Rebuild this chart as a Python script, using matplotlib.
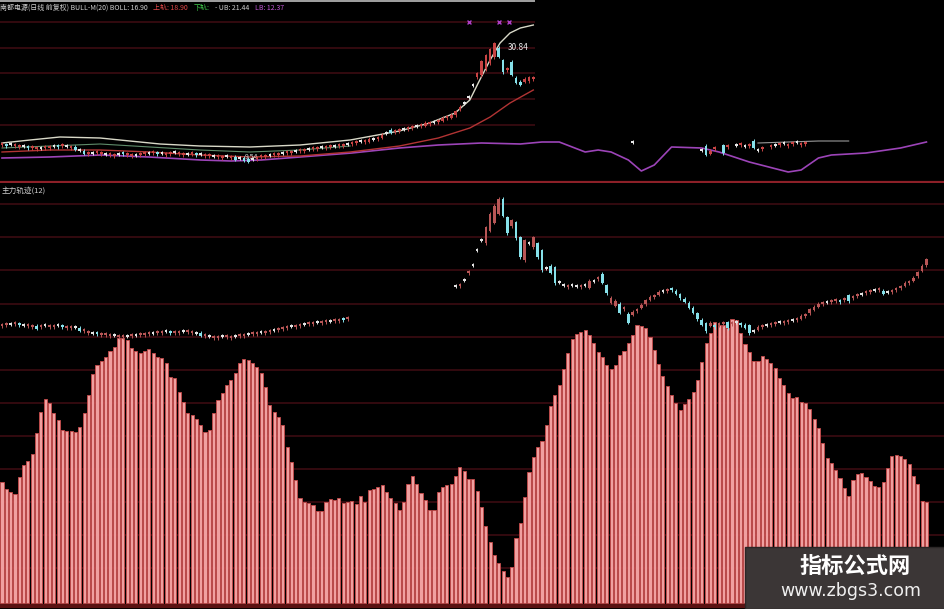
import numpy as np
import matplotlib.pyplot as plt
from matplotlib.patches import Rectangle

plt.rcParams['font.family'] = ['Noto Sans CJK SC', 'DejaVu Sans']

# lower panel: 主力轨迹 bars (height above the baseline, one per day)
bar_vals = [121, 114, 111, 109, 126, 138, 142, 149, 170, 191, 204, 200, 190, 183, 173, 172, 172, 171, 176, 190,
            208, 229, 238, 242, 246, 252, 256, 265, 265, 263, 255, 252, 250, 252, 254, 250, 246, 245, 240, 226,
            225, 211, 201, 190, 188, 184, 178, 171, 173, 190, 203, 210, 218, 223, 230, 240, 244, 243, 240, 236,
            230, 216, 198, 191, 186, 178, 156, 141, 123, 105, 101, 100, 98,
            92, 92, 101, 104, 103, 105, 100, 101, 102, 99, 107, 101, 113, 114, 116, 118, 111, 105, 100, 93,
            101, 119, 127, 119, 110, 103, 93, 93, 111, 116, 118, 119, 127, 136, 132, 124, 124, 112, 96, 77,
            61, 48, 40, 32, 26, 36, 65, 80, 106, 131, 146, 156, 162, 178,
            197, 208, 218, 234, 250, 264, 269, 271, 273, 268, 260, 251, 246, 238, 234, 238, 248, 252, 260, 268,
            278, 277, 275, 266, 253, 239, 227, 217, 208, 200, 193, 199, 204, 211, 223, 241, 260, 270, 281, 278,
            278, 275, 284, 283, 270, 259, 251,
            242, 242, 247, 244, 240, 235, 225, 218, 210, 205, 206, 201, 200, 194, 184, 175, 160, 145, 140, 133,
            125, 115, 107, 123, 129, 130, 126, 122, 117, 116, 121, 135, 147, 148, 147, 144, 139, 127, 119, 102, 101]

# lower panel candles: middle of body and signed body (days 0..80)
lo1_mid = [278, 279, 279, 280, 279, 278, 278, 277, 276, 277,
           278, 277, 277, 278, 277, 276, 276, 276, 274, 273,
           271, 270, 270, 269, 269, 268, 268, 267, 267, 267,
           268, 268, 269, 269, 270, 270, 271, 271, 272, 271,
           271, 271, 272, 272, 271, 270, 269, 268, 267, 266,
           266, 267, 267, 266, 267, 268, 268, 269, 270, 270,
           271, 271, 272, 273, 274, 275, 276, 277, 277, 278,
           279, 280, 280, 281, 281, 282, 282, 283, 283, 284, 285]
lo1_body = [2, 2, 0, 2, -2, 0, 2, 2, -3, 2, 0, 2, 2, 0, -2, 2, 2, 0, -3, 2,
            2, 0, -2, 2, 2, 2, 0, 2, 2, 0, 2, 0, 2, 2, 2, 0, 2, 2, 0, -2,
            2, 2, 0, 2, 2, 0, -3, 2, 0, 2, 2, 0, 2, 2, 0, 2, 2, 0, 2, 2,
            0, 2, 2, 0, 2, 2, 2, 0, 2, 2, 0, 2, 2, 0, 2, 2, 0, 2, 2, -2, 2]

# days 105..214
lo2_mid = [317, 318, 323, 331, 338, 353, 363, 368, 381, 389,
           397, 396, 378, 380, 373, 356, 353, 360, 361, 353,
           343, 335, 334, 328, 321, 318, 317, 318, 317, 317,
           318, 319, 322, 325, 325, 314, 303, 300, 295, 295,
           285, 290, 293, 297, 301, 305, 307, 310, 312, 313,
           314, 311, 307, 303, 298, 293, 287, 281, 276, 279,
           277, 279, 280, 278, 280, 281, 279, 277, 274, 272,
           275, 277, 278, 279, 280, 281, 281, 282, 283, 284,
           286, 288, 292, 295, 298, 300, 301, 302, 303, 302,
           304, 305, 306, 308, 309, 311, 312, 313, 314, 311,
           311, 312, 314, 316, 319, 321, 324, 329, 335, 341]
lo2_body = [0, 2, 0, 2, 0, 0, 0, 16, 17, 17,
            15, -17, -16, 6, -16, -20, 20, 0, 10, -14,
            -20, 0, -7, -16, 0, 0, 2, 0, 0, 2,
            0, 7, 0, 2, -9, -8, 5, 5, -9, 2,
            -9, 3, 2, 3, 4, 3, 2, 3, 0, 2,
            -2, -3, -4, -3, -5, -5, -6, -5, -8, 3,
            -2, 2, 2, -6, 2, 0, -2, -3, -8, 0,
            3, 2, 0, 2, 2, 0, 2, 2, 0, 2,
            3, 2, 4, 3, 3, 2, 0, 2, 2, -2,
            2, -6, 2, 2, 0, 2, 2, 0, 2, -3,
            0, 2, 2, 2, 3, 2, 3, 4, 5, 6]

# upper panel candles (days 0..123)
top_mid = [39, 38, 39, 38, 37, 37, 36, 36, 35, 35, 36, 36, 37, 37, 38, 37, 36, 35, 33, 31,
           30, 30, 31, 30, 29, 29, 28, 29, 30, 29, 28, 28, 29, 30, 30, 31, 30, 30, 29, 30,
           31, 30, 29, 29, 30, 29, 29, 28, 28, 27, 27, 26, 27, 26, 25, 25, 24, 23, 24, 25,
           27, 27, 28, 29, 29, 30, 31, 31, 32, 33, 33, 34, 35, 35, 36, 36, 37, 37, 38, 38,
           39, 40, 41, 42, 42, 43, 44, 45, 47, 50, 52, 52, 53, 54, 55, 56, 57, 58, 59, 60,
           61, 62, 64, 66, 67, 70, 75, 80, 86, 98, 108, 115, 121, 127, 133, 131, 117, 114, 115, 103,
           100, 103, 104, 105]
top_body = [2, -2, 0, 2, 2, 0, -2, 2, 2, 0, 2, 2, 0, -2, 2, 0, 2, -3, 0, -3,
            2, 0, 2, 2, 0, 2, 2, 0, -2, 2, 2, 0, 2, 2, 0, 2, -2, 0, 2, 2,
            0, 2, 2, 0, 2, -2, 0, 2, 2, 0, 2, 2, 0, 2, -3, 0, -3, -3, 0, 2,
            2, 2, 0, 2, 2, 0, 2, 2, 0, 2, 2, 0, 2, 2, 0, 2, 2, 0, 2, 2,
            0, 2, 2, 0, 2, 3, 0, 2, 3, 0, -3, 2, 2, 0, 2, 2, 0, 2, 3, 2,
            0, 2, 3, 2, 3, 4, 3, 0, 0, 0, 4, 14, 14, 14, 14, -9, -12, 2, -13, -5,
            -3, 3, 4, 2]

# second cluster of candles in the upper panel
top2_day = [146, 162, 163, 164, 165, 167, 168, 170, 171, 172, 173, 174, 175, 176,
            178, 179, 180, 181, 182, 183, 184, 185, 186]
top2_mid = [41, 33, 33, 31, 35, 34, 37, 38, 39, 37, 38, 39, 33, 35,
            37, 38, 39, 40, 38, 40, 41, 39, 40]
top2_body = [0, 0, -9, 3, 2, -8, 2, 0, 2, 0, 2, -7, 0, 2,
             2, 0, 2, 0, 2, 2, 0, 2, 2]

# indicator lines in the upper panel
purple_day = [0, 11, 23, 34, 46, 53, 60, 69, 81, 92, 101, 111, 120, 125, 129, 135, 138, 141,
              145, 148, 151, 155, 162, 166, 173, 182, 185, 189, 192, 200, 208, 214]
purple_val = [25, 26, 28, 26, 23, 22, 23, 26, 30, 35, 38, 40, 39, 41, 41, 31, 33, 31,
              23, 12, 18, 36, 35, 31, 21, 11, 13, 25, 28, 30, 35, 41]
ub_day = [0, 6.5, 13.4, 22.7, 29.6, 36.6, 45.8, 57.4, 69, 80.6, 92, 99, 104.9, 108.3, 110.6, 113,
          115.3, 117.6, 120, 123]
ub_val = [40, 43, 46, 45, 42, 39, 37, 36, 38, 43, 52, 60, 70, 83, 103, 123, 140, 150, 155, 158]
mb_day = [0, 11.1, 22.7, 34.3, 45.8, 57.4, 69, 80.6]
mb_val = [35, 37, 39, 36, 33, 31, 33, 37]
lb_day = [0, 11.1, 22.7, 34.3, 45.8, 57.4, 69, 80.6, 92, 101, 108.3, 113, 117.6, 123]
lb_val = [31, 33, 33, 31, 28, 26, 27, 31, 37, 45, 55, 66, 80, 93]
grey_day = [175, 182, 189, 196]
grey_val = [40, 41, 42, 42]

header = [('南都电源(日线 前复权) BULL-M(20) BOLL: 16.90', '#cfcfcf'),
          ('上轨: 18.90', '#e04848'),
          ('下轨:', '#3fc84a'),
          ('- UB: 21.44', '#cfcfcf'),
          ('LB: 12.37', '#c257d6')]

W, H = 945, 609
fig = plt.figure(figsize=(W / 100, H / 100), dpi=100, facecolor='black')
ax_top = fig.add_axes([0, 426 / H, 1, 183 / H])
ax_low = fig.add_axes([0, 0, 1, 426 / H])
xlim = (-0.46, 218.3)
for ax in (ax_top, ax_low):
    ax.set_facecolor('black')
    ax.set_xlim(*xlim)
    ax.set_axis_off()
ax_top.set_ylim(0, 183)
ax_low.set_ylim(-6, 420)

grid_c = '#3b0c11'


def candles(ax, days, mid, body, up, down, flat, width=0.6):
    days = np.asarray(days, float)
    mid = np.asarray(mid, float)
    body = np.asarray(body, float)
    h = np.maximum(np.abs(body), 1.6)
    cols = [up if b > 0 else (down if b < 0 else flat) for b in body]
    ax.vlines(days, mid - h / 2 - 1.5, mid + h / 2 + 1.5, colors=cols, lw=0.7, zorder=4)
    ax.bar(days, h, bottom=mid - h / 2, width=width, color=cols, zorder=5, linewidth=0)


# ---- lower panel ----
ax_low.hlines([399, 366, 333, 299, 266, 233, 200, 167, 134, 101, 68, 35], *xlim,
              colors=grid_c, lw=1.2, zorder=0)
ax_low.axhline(-2.5, color='#5a1212', lw=3, zorder=1)
days = np.arange(len(bar_vals))
ax_low.bar(days, bar_vals, width=0.72, color='#f0a0a0', edgecolor='#c64a4a',
           linewidth=0.6, zorder=2)
candles(ax_low, np.arange(len(lo1_mid)), lo1_mid, lo1_body, '#b85656', '#86e1ea', '#e2e2e2')
candles(ax_low, np.arange(105, 105 + len(lo2_mid)), lo2_mid, lo2_body, '#b85656', '#86e1ea', '#e2e2e2')
ax_low.text(0.002, 412, '主力轨迹(12)', color='#cfcfcf', fontsize=5.5, va='center', ha='left',
            transform=ax_low.get_yaxis_transform())

# ---- upper panel ----
ax_top.hlines([161, 135, 110, 84, 58], xlim[0], 123.4, colors=grid_c, lw=1.2, zorder=0)
ax_top.hlines(182, xlim[0], 123.4, colors='#bdbdbd', lw=1.2, zorder=1)
ax_top.axhline(0.8, color='#8c2028', lw=1.6, zorder=1)
ax_top.plot(purple_day, purple_val, color='#9c44b8', lw=1.2, zorder=2)
ax_top.plot(ub_day, ub_val, color='#d9d9c8', lw=1.0, zorder=3)
ax_top.plot(mb_day, mb_val, color='#5f8c6a', lw=0.8, zorder=3)
ax_top.plot(lb_day, lb_val, color='#b23434', lw=1.0, zorder=3)
ax_top.plot(grey_day, grey_val, color='#9a9a9a', lw=0.8, zorder=3)
candles(ax_top, np.arange(len(top_mid)), top_mid, top_body, '#c84444', '#86e1ea', '#e8e8e8')
candles(ax_top, top2_day, top2_mid, top2_body, '#c84444', '#86e1ea', '#e8e8e8')
ax_top.scatter([108, 115, 117.4], [161, 161, 161], marker='x', s=8, color='#b040c8', lw=1, zorder=5)
ax_top.text(117, 135, '30.84', color='#e8e8e8', fontsize=6, va='center', ha='left')
ax_top.text(56.3, 26, '9.54', color='#d8d8d8', fontsize=5, va='center', ha='left')

# header: coloured pieces placed one after another
prev = None
for txt, col in header:
    if prev is None:
        prev = fig.text(0.0, 1 - 8 / H, txt, color=col, fontsize=5.0, va='center', ha='left')
    else:
        prev = fig.add_artist(plt.Annotation(txt, xy=(1, 0.5), xycoords=prev, xytext=(4, 0),
                                             textcoords='offset points', color=col, fontsize=5.0,
                                             va='center', ha='left'))

# watermark box
fig.add_artist(Rectangle((745 / W, 0), 200 / W, 62 / H, transform=fig.transFigure,
                         facecolor='#3b3636', edgecolor='#2a2626', lw=1, zorder=10))
fig.text(855 / W, 1 - 566 / H, '指标公式网', color='white', fontsize=16, weight='bold',
         ha='center', va='center', zorder=11)
fig.text(851 / W, 1 - 591 / H, 'www.zbgs3.com', color='#f0f0f0', fontsize=12.5,
         ha='center', va='center', zorder=11, family=['DejaVu Sans'])

fig.savefig('out.png', dpi=100, facecolor='black')
